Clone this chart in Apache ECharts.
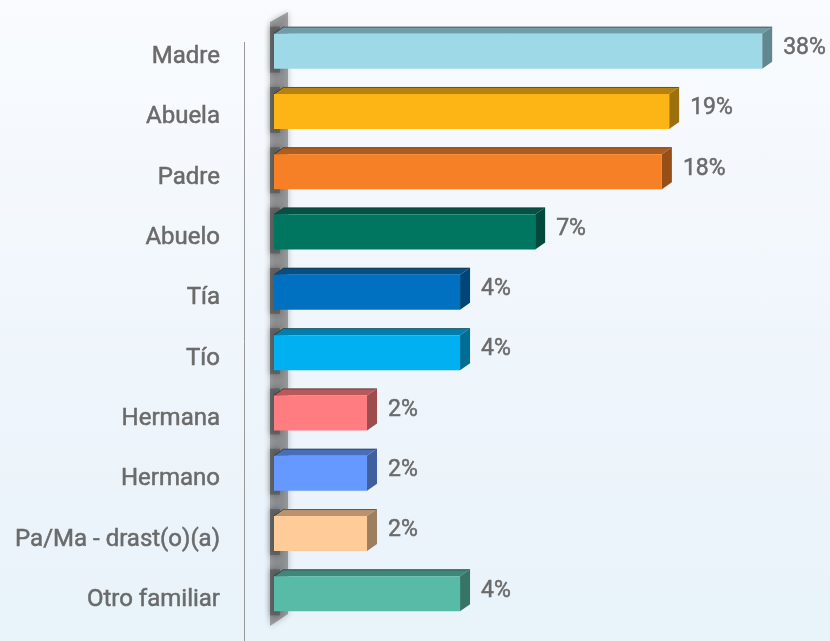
<!DOCTYPE html>
<html>
<head>
    <meta charset="utf-8"/>
    <title>Familiares</title>
    <script src="https://cdn.jsdelivr.net/npm/echarts@6/dist/echarts.min.js"></script>
    <style>
        html, body { margin: 0; padding: 0; }
        #chart {
            width: 830px;
            height: 641px;
            background: linear-gradient(to bottom, #f9fbfe 0%, #eef5fb 60%, #e9f3fa 100%);
        }
    </style>
</head>
<body>
<div id="chart"></div>
<script>
    // datos del gráfico
    var categorias = ['Madre', 'Abuela', 'Padre', 'Abuelo', 'Tía', 'Tío', 'Hermana', 'Hermano', 'Pa/Ma - drast(o)(a)', 'Otro familiar'];
    var valores = [38, 19, 18, 7, 4, 4, 2, 2, 2, 4];
    var colores = ['#9dd9e7', '#fdb515', '#f58025', '#007560', '#0070c0', '#00b0f0', '#ff7c80', '#6699ff', '#ffcc99', '#58bba8'];

    // oscurecer un color hex
    function sombra(hex, f) {
        var n = parseInt(hex.slice(1), 16);
        var r = Math.round(((n >> 16) & 255) * f);
        var g = Math.round(((n >> 8) & 255) * f);
        var b = Math.round((n & 255) * f);
        return 'rgb(' + r + ',' + g + ',' + b + ')';
    }

    var DX = 10, DY = 7, ALTO = 35;
    var GRIS = '#6a6a6a';

    function renderBar(params, api) {
        var i = api.value(1);
        var p0 = api.coord([1, i]);
        var p1 = api.coord([api.value(0), i]);
        var x0 = p0[0], x1 = p1[0];
        var yT = p0[1] - ALTO / 2, yB = p0[1] + ALTO / 2;
        var c = colores[i];
        return {
            type: 'group',
            children: [
                { // sombra contra la pared
                    type: 'rect',
                    shape: { x: x0 - 4, y: yT - DY, width: 10, height: ALTO + DY + 4 },
                    style: { fill: 'rgba(80,80,80,0.6)', shadowBlur: 6, shadowColor: 'rgba(0,0,0,0.5)' }
                },
                { // cara superior
                    type: 'polygon',
                    shape: { points: [[x0, yT], [x0 + DX, yT - DY], [x1 + DX, yT - DY], [x1, yT]] },
                    style: { fill: sombra(c, 0.72) }
                },
                {
                    type: 'line',
                    shape: { x1: x0, y1: yT, x2: x0 + DX, y2: yT - DY },
                    style: { stroke: 'rgba(40,40,40,0.7)', lineWidth: 1 }
                },
                {
                    type: 'line',
                    shape: { x1: x0 + DX, y1: yT - DY + 0.5, x2: x1 + DX, y2: yT - DY + 0.5 },
                    style: { stroke: 'rgba(40,40,40,0.55)', lineWidth: 1 }
                },
                { // cara lateral
                    type: 'polygon',
                    shape: { points: [[x1, yT], [x1 + DX, yT - DY], [x1 + DX, yB - DY], [x1, yB]] },
                    style: { fill: sombra(c, 0.62) }
                },
                { // cara frontal
                    type: 'rect',
                    shape: { x: x0, y: yT, width: x1 - x0, height: ALTO },
                    style: { fill: c }
                },
                {
                    type: 'text',
                    x: x1 + DX + 11,
                    y: p0[1] - 3,
                    style: {
                        text: api.value(0) + '%',
                        fill: GRIS,
                        font: '23px Roboto',
                        stroke: GRIS,
                        lineWidth: 0.5,
                        verticalAlign: 'middle',
                        align: 'left'
                    }
                }
            ]
        };
    }

    var datos = [];
    for (var i = 0; i < valores.length; i++) {
        datos.push([valores[i], i]);
    }

    var myChart = echarts.init(document.getElementById('chart'), null, { renderer: 'canvas' });
    var option = {
        backgroundColor: 'transparent',
        animation: false,
        grid: { left: 274, top: 21, width: 525, height: 603 },
        xAxis: {
            type: 'log',
            min: 1,
            max: 50,
            show: false
        },
        yAxis: {
            type: 'category',
            inverse: true,
            data: categorias,
            axisLine: { show: false },
            axisTick: { show: false },
            axisLabel: {
                margin: 54,
                formatter: function (v) { return '{t|' + v + '}'; },
                rich: {
                    t: {
                        color: GRIS,
                        fontFamily: 'Roboto',
                        fontSize: 24,
                        textBorderColor: GRIS,
                        textBorderWidth: 0.5,
                        padding: [12, 0, 0, 0]
                    }
                }
            }
        },
        graphic: [
            { // línea vertical
                type: 'line',
                z: 0,
                shape: { x1: 244.5, y1: 42, x2: 244.5, y2: 641 },
                style: { stroke: '#999', lineWidth: 1 }
            },
            { // pared gris
                type: 'polygon',
                z: 0,
                shape: { points: [[270, 22], [288, 12], [288, 614], [270, 626]] },
                style: { fill: 'rgba(110,110,110,0.6)', shadowBlur: 6, shadowColor: 'rgba(0,0,0,0.4)' }
            }
        ],
        series: [{
            type: 'custom',
            renderItem: renderBar,
            encode: { x: 0, y: 1 },
            data: datos,
            clip: false
        }]
    };
    myChart.setOption(option);
</script>
</body>
</html>
